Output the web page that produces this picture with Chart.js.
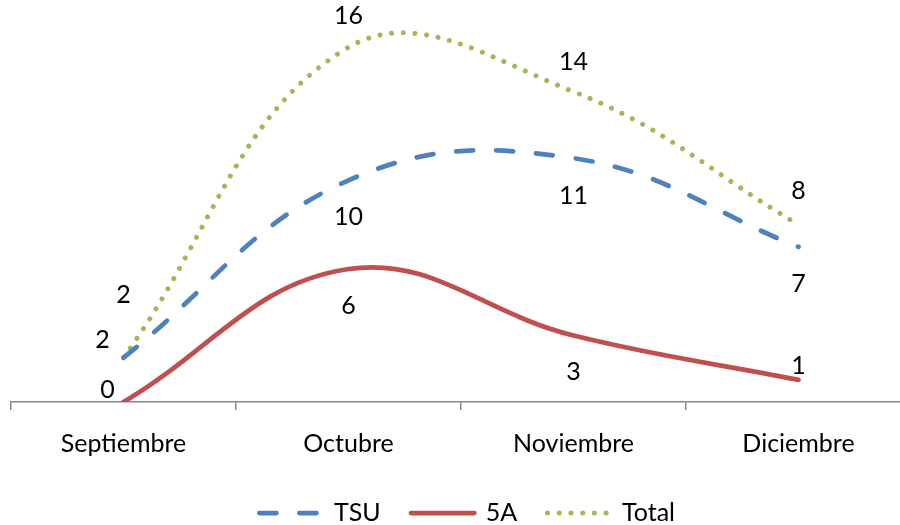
<!DOCTYPE html>
<html><head><meta charset="utf-8">
<script src="https://cdn.jsdelivr.net/npm/chart.js@4/dist/chart.umd.min.js"></script>
<style>html,body{margin:0;padding:0;overflow:hidden;background:#fff;width:900px;height:525px}canvas{display:block}</style>
</head><body>
<canvas id="c" width="922" height="525"></canvas>
<script>
// ---- data ----
const categories = ['Septiembre', 'Octubre', 'Noviembre', 'Diciembre'];
const seriesNames = ['TSU', '5A', 'Total'];
const tsuValues = [2, 10, 11, 7];
const a5Values = [0, 6, 3, 1];
const totalValues = [2, 16, 14, 8];

// ---- style ----
const FONT = 'Lato, "Open Sans", sans-serif';
const FONT_SIZE = 25;
const TEXT = '#000000';
const AXIS = '#868686';
// per series, per point label offsets (px) relative to the point
const labelOffsets = [
  [[-21, -18], [0, 37], [0, 38], [0, 37]],
  [[-16, -12], [0, 37], [0, 36], [0, -14]],
  [[0, -63], [0, -31], [0, -30], [0, -34]]
];

const dataLabels = {
  id: 'dataLabels',
  afterDatasetsDraw(chart) {
    const ctx = chart.ctx;
    ctx.save();
    ctx.font = FONT_SIZE + 'px ' + FONT;
    ctx.fillStyle = TEXT;
    ctx.textAlign = 'center';
    ctx.textBaseline = 'middle';
    chart.data.datasets.forEach((ds, i) => {
      const meta = chart.getDatasetMeta(i);
      meta.data.forEach((pt, j) => {
        const off = labelOffsets[i][j];
        ctx.fillText(String(ds.data[j]), pt.x + off[0], pt.y + off[1]);
      });
    });
    ctx.restore();
  }
};

const customLegend = {
  id: 'customLegend',
  afterDraw(chart) {
    const ctx = chart.ctx;
    const y = 513;
    const sample = 68, gapText = 9, gapItem = 28;
    ctx.save();
    ctx.font = FONT_SIZE + 'px ' + FONT;
    ctx.textBaseline = 'middle';
    ctx.textAlign = 'left';
    const items = chart.data.datasets.map(ds => ({ds, w: ctx.measureText(ds.label).width}));
    let total = 0;
    items.forEach((it, k) => { total += sample + gapText + it.w + (k ? gapItem : 0); });
    let x = 466 - total / 2;
    items.forEach(it => {
      const ds = it.ds;
      ctx.save();
      ctx.strokeStyle = ds.borderColor;
      ctx.lineWidth = ds.borderWidth;
      ctx.lineCap = ds.borderCapStyle || 'butt';
      ctx.setLineDash(ds.borderDash || []);
      ctx.beginPath();
      const cap = ds.borderWidth / 2;
      ctx.moveTo(x + cap, y);
      ctx.lineTo(x + sample - cap, y);
      ctx.stroke();
      ctx.restore();
      ctx.fillStyle = TEXT;
      ctx.fillText(ds.label, x + sample + gapText, y);
      x += sample + gapText + it.w + gapItem;
    });
    ctx.restore();
  }
};

new Chart(document.getElementById('c'), {
  type: 'line',
  data: {
    labels: categories,
    datasets: [
      {label: seriesNames[0], data: tsuValues, borderColor: '#4F81BD', borderWidth: 4.75,
       borderDash: [17, 23], borderCapStyle: 'round'},
      {label: seriesNames[1], data: a5Values, borderColor: '#C0504D', borderWidth: 4.75,
       borderCapStyle: 'round'},
      {label: seriesNames[2], data: totalValues, borderColor: '#9BBB59', borderWidth: 5,
       borderDash: [0.01, 11.7], borderCapStyle: 'round'}
    ]
  },
  options: {
    responsive: false,
    animation: false,
    devicePixelRatio: 1,
    elements: {line: {tension: 0.4, fill: false}, point: {radius: 0, hoverRadius: 0}},
    layout: {padding: {left: 11, right: 11, top: 3, bottom: 47}},
    plugins: {legend: {display: false}, tooltip: {enabled: false}},
    scales: {
      x: {
        offset: true,
        border: {display: true, color: AXIS, width: 1.5},
        grid: {display: true, offset: true, drawOnChartArea: false, drawTicks: true,
               tickLength: 8, color: AXIS, lineWidth: 1.5},
        ticks: {color: TEXT, font: {family: FONT, size: FONT_SIZE, lineHeight: 1.2}, padding: 19,
                maxRotation: 0, autoSkip: false}
      },
      y: {display: false, min: 0, max: 18}
    }
  },
  plugins: [dataLabels, customLegend]
});
</script>
</body></html>
